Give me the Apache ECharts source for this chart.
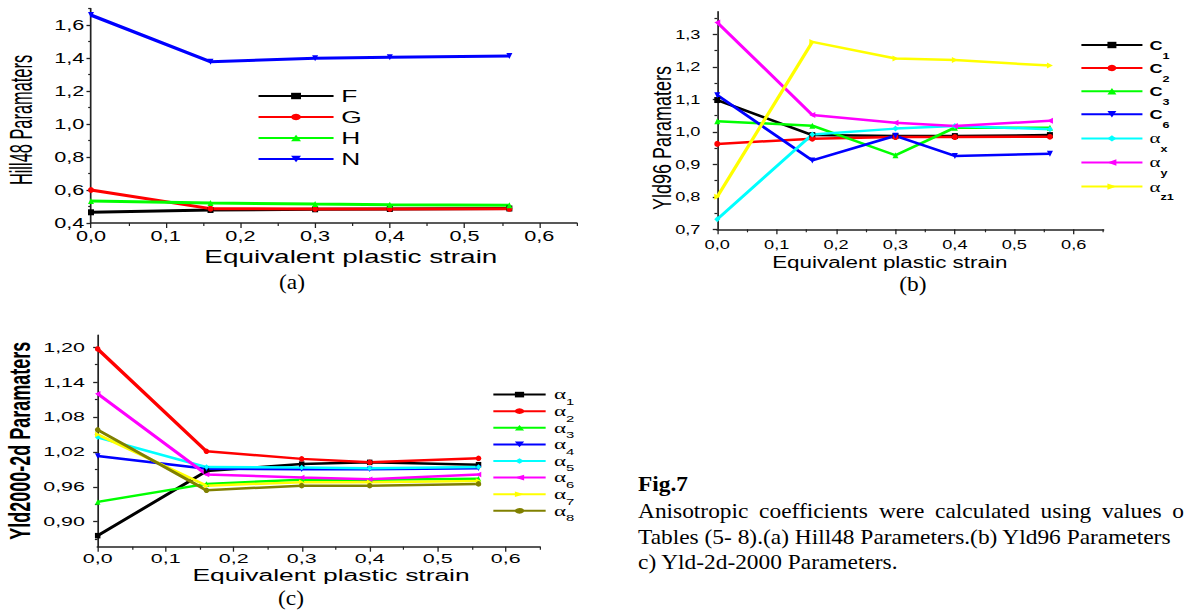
<!DOCTYPE html>
<html><head><meta charset="utf-8">
<script src="https://cdn.jsdelivr.net/npm/echarts@6/dist/echarts.min.js"></script>
<style>
html,body{margin:0;padding:0;background:#fff;width:1184px;height:611px;overflow:hidden;position:relative;}
.c{position:absolute;transform-origin:0 0;}
</style></head><body>
<div id="ca" class="c"></div>
<div id="cb" class="c"></div>
<div id="cc" class="c"></div>
<div id="cap" class="c"></div>
<script>
// ---- data ----
const strain = [0, 0.16, 0.3, 0.4, 0.56];
const xMajor = [0, 0.1, 0.2, 0.3, 0.4, 0.5, 0.6];
const xMinor = [0.05, 0.15, 0.25, 0.35, 0.45, 0.55, 0.65];

const hillNames = ['F', 'G', 'H', 'N'];
const hillF = [0.465, 0.479, 0.483, 0.485, 0.488];
const hillG = [0.600, 0.487, 0.485, 0.485, 0.486];
const hillH = [0.533, 0.521, 0.515, 0.511, 0.507];
const hillN = [1.660, 1.377, 1.398, 1.404, 1.412];
const hillYMajor = [0.4, 0.6, 0.8, 1.0, 1.2, 1.4, 1.6];
const hillYMinor = [0.5, 0.7, 0.9, 1.1, 1.3, 1.5, 1.7];

const yld96Names = ['C1', 'C2', 'C3', 'C6', 'αx', 'αy', 'αz1'];
const yld96C1 = [1.098, 0.990, 0.987, 0.987, 0.990];
const yld96C2 = [0.963, 0.979, 0.984, 0.984, 0.985];
const yld96C3 = [1.033, 1.019, 0.928, 1.013, 1.013];
const yld96C6 = [1.113, 0.912, 0.988, 0.926, 0.933];
const yld96Ax = [0.731, 0.992, 1.010, 1.018, 1.008];
const yld96Ay = [1.337, 1.052, 1.028, 1.018, 1.034];
const yld96Az1 = [0.800, 1.277, 1.226, 1.221, 1.204];
const yld96YMajor = [0.7, 0.8, 0.9, 1.0, 1.1, 1.2, 1.3];
const yld96YMinor = [0.75, 0.85, 0.95, 1.05, 1.15, 1.25, 1.35];

const yld2kNames = ['α1', 'α2', 'α3', 'α4', 'α5', 'α6', 'α7', 'α8'];
const yld2kA1 = [0.876, 0.987, 0.999, 1.002, 0.998];
const yld2kA2 = [1.197, 1.021, 1.008, 1.002, 1.009];
const yld2kA3 = [0.934, 0.965, 0.972, 0.972, 0.974];
const yld2kA4 = [1.013, 0.991, 0.990, 0.990, 0.992];
const yld2kA5 = [1.045, 0.994, 0.993, 0.992, 0.994];
const yld2kA6 = [1.120, 0.981, 0.976, 0.973, 0.981];
const yld2kA7 = [1.050, 0.962, 0.968, 0.968, 0.970];
const yld2kA8 = [1.058, 0.954, 0.962, 0.962, 0.965];
const yld2kYMajor = [0.90, 0.96, 1.02, 1.08, 1.14, 1.20];
const yld2kYMinor = [0.87, 0.93, 0.99, 1.05, 1.11, 1.17];

// ---- styles ----
const COL = {k:'#000000', r:'#ff0000', g:'#00ff00', b:'#0000ff', c:'#00ffff', m:'#ff00ff', y:'#ffff00', o:'#808000'};
const MARK = [
  {symbol:'rect', rot:0}, {symbol:'circle', rot:0}, {symbol:'triangle', rot:0},
  {symbol:'triangle', rot:180}, {symbol:'diamond', rot:0}, {symbol:'triangle', rot:90},
  {symbol:'triangle', rot:-90}, {symbol:'circle', rot:0}
];
const FONT = 'Liberation Sans, Arial, sans-serif';

function pairs(ys){ return strain.map((x, i) => [x, ys[i]]); }
function comma(v, d){ return v.toFixed(d).replace('.', ','); }

function buildSeries(names, arrays, colors, s, lw, ms){
  return names.map((n, i) => {
    const mk = MARK[i];
    const sz = (mk.rot === 90 || mk.rot === -90) ? [ms, ms / s] : [ms / s, ms];
    return {
      type:'line', name:n, data:pairs(arrays[i]), xAxisIndex:0, yAxisIndex:0,
      symbol:mk.symbol, symbolRotate:mk.rot, symbolSize:sz, showSymbol:true,
      lineStyle:{color:colors[i], width:lw}, itemStyle:{color:colors[i]},
      clip:false, emphasis:{disabled:true}, silent:true
    };
  });
}

function buildOption(cfg){
  const s = cfg.s;
  const xMain = {
    type:'value', gridIndex:0, position:'bottom', min:0, max:0.65,
    axisLine:{show:true, onZero:false, lineStyle:{color:'#222', width:1.5}},
    axisTick:{show:true, inside:false, length:5, customValues:xMajor, lineStyle:{color:'#222', width:1.3 / s}},
    axisLabel:{show:true, customValues:xMajor, formatter:v => comma(v, 1), margin:cfg.xMargin,
      fontSize:cfg.tickFont, color:'#000', fontFamily:FONT},
    splitLine:{show:false},
    name:'Equivalent plastic strain', nameLocation:'middle', nameGap:cfg.xNameGap, nameMoveOverlap:false,
    nameTextStyle:{fontSize:cfg.xNameFont, color:'#000', fontFamily:FONT, padding:cfg.xNamePad}
  };
  const xMin = {
    type:'value', gridIndex:0, position:'bottom', min:0, max:0.65,
    axisLine:{show:false}, axisLabel:{show:false}, splitLine:{show:false},
    axisTick:{show:true, inside:false, length:3, customValues:xMinor, lineStyle:{color:'#222', width:1.2 / s}}
  };
  const yMain = {
    type:'value', gridIndex:0, position:'left', min:cfg.yMin, max:cfg.yMax,
    axisLine:{show:true, onZero:false, lineStyle:{color:'#222', width:1.7 / s}},
    axisTick:{show:true, inside:false, length:4.5 / s, customValues:cfg.yMajor, lineStyle:{color:'#222', width:1.3}},
    axisLabel:{show:true, customValues:cfg.yMajor, formatter:v => comma(v, cfg.yDec), margin:cfg.yMargin,
      fontSize:cfg.tickFont, color:'#000', fontFamily:FONT},
    splitLine:{show:false},
    name:cfg.yName, nameLocation:'middle', nameGap:cfg.yNameGap, nameMoveOverlap:false,
    nameTextStyle:Object.assign({color:'#000', fontFamily:FONT}, cfg.yNameStyle)
  };
  const yMin = {
    type:'value', gridIndex:0, position:'left', min:cfg.yMin, max:cfg.yMax,
    axisLine:{show:false}, axisLabel:{show:false}, splitLine:{show:false},
    axisTick:{show:true, inside:false, length:2.8 / s, customValues:cfg.yMinor, lineStyle:{color:'#222', width:1.2}}
  };
  return {
    animation:false,
    backgroundColor:'transparent',
    textStyle:{fontFamily:FONT},
    grid:{left:cfg.grid[0], top:cfg.grid[1], width:cfg.grid[2], height:cfg.grid[3], containLabel:false, outerBoundsMode:'none'},
    xAxis:[xMain, xMin],
    yAxis:[yMain, yMin],
    legend:Object.assign({
      orient:'vertical', padding:0, selectedMode:false,
      data:cfg.names
    }, cfg.legend),
    graphic:cfg.graphic || [],
    series:buildSeries(cfg.names, cfg.arrays, cfg.colors, s, cfg.lw, cfg.ms)
  };
}

function mount(id, left, top, pageW, pageH, s){
  const el = document.getElementById(id);
  el.style.left = left + 'px';
  el.style.top = top + 'px';
  el.style.width = (pageW / s) + 'px';
  el.style.height = pageH + 'px';
  el.style.transform = 'scaleX(' + s + ')';
  return echarts.init(el, null, {renderer:'svg', width:pageW / s, height:pageH});
}

// ---- chart (a) Hill48 ----
const sA = 1.55;
const chA = mount('ca', 0, 0, 590, 300, sA);
chA.setOption(buildOption({
  s:sA, grid:[58.7, 8.5, 313.3, 214.5],
  yMin:0.4, yMax:1.7, yMajor:hillYMajor, yMinor:hillYMinor, yDec:1,
  tickFont:14, xMargin:6.5, yMargin:4.3,
  xNameGap:25, xNameFont:18, xNamePad:[0, 0, 0, 22],
  yName:'', yNameGap:35, yNameStyle:{},
  graphic:[{type:'text', x:13.6, y:120, rotation:Math.PI / 2, scaleX:0.82, silent:true,
    style:{text:'Hill48 Paramaters', fontSize:20, fontFamily:FONT, fill:'#000', align:'center', verticalAlign:'middle'}}],
  names:hillNames, arrays:[hillF, hillG, hillH, hillN], colors:[COL.k, COL.r, COL.g, COL.b],
  lw:3, ms:6,
  legend:{left:165.8, top:87.5, itemWidth:48.4, itemHeight:8, itemGap:4,
    textStyle:{fontSize:17, lineHeight:17, color:'#000', fontFamily:FONT}}
}));

// ---- chart (b) Yld96 ----
const sB = 1.4;
const chB = mount('cb', 590, 0, 594, 300, sB);
chB.setOption(buildOption({
  s:sB, grid:[90.9, 11.7, 275.8, 217.6],
  yMin:0.7, yMax:1.37, yMajor:yld96YMajor, yMinor:yld96YMinor, yDec:1,
  tickFont:13, xMargin:8.2, yMargin:12,
  xNameGap:25.4, xNameFont:16, xNamePad:[0, 29.4, 0, 0],
  yName:'Yld96 Paramaters', yNameGap:30,
  yNameStyle:{fontSize:18, padding:[0, 35, 0, 0]},
  names:yld96Names, arrays:[yld96C1, yld96C2, yld96C3, yld96C6, yld96Ax, yld96Ay, yld96Az1],
  colors:[COL.k, COL.r, COL.g, COL.b, COL.c, COL.m, COL.y],
  lw:2.5, ms:6,
  legend:{left:350, top:38.5, itemWidth:43.6, itemHeight:8, itemGap:1.6,
    formatter:n => n.charAt(0) === 'α' ? '{a|α}{s|' + n.slice(1) + '}' : '{m|' + n.charAt(0) + '}{s|' + n.slice(1) + '}',
    textStyle:{color:'#000', fontFamily:FONT, rich:{
      m:{fontSize:13, fontWeight:'bold', lineHeight:30, color:'#000', fontFamily:FONT},
      a:{fontSize:15, lineHeight:30, color:'#000', fontFamily:'Liberation Serif, serif'},
      s:{fontSize:9, fontWeight:'bold', lineHeight:12, verticalAlign:'bottom', color:'#000', fontFamily:FONT}
    }}}
}));

// ---- chart (c) Yld2000-2d ----
const sC = 1.65;
const chC = mount('cc', 0, 300, 590, 311, sC);
chC.setOption(buildOption({
  s:sC, grid:[59.2, 35, 267.9, 211.7],
  yMin:0.857, yMax:1.221, yMajor:yld2kYMajor, yMinor:yld2kYMinor, yDec:2,
  tickFont:13, xMargin:5, yMargin:7.7,
  xNameGap:20.5, xNameFont:16, xNamePad:[0, 0, 0, 15],
  yName:'Yld2000-2d Paramaters', yNameGap:38,
  yNameStyle:{fontSize:18, fontWeight:'bold'},
  names:yld2kNames, arrays:[yld2kA1, yld2kA2, yld2kA3, yld2kA4, yld2kA5, yld2kA6, yld2kA7, yld2kA8],
  colors:[COL.k, COL.r, COL.g, COL.b, COL.c, COL.m, COL.y, COL.o],
  lw:2.5, ms:5.5,
  legend:{left:298, top:87.6, itemWidth:31.7, itemHeight:7, itemGap:-2.4,
    formatter:n => '{a|α}{s|' + n.slice(1) + '}',
    textStyle:{color:'#000', fontFamily:FONT, rich:{
      a:{fontSize:14, lineHeight:24, color:'#000', fontFamily:'Liberation Serif, serif'},
      s:{fontSize:9, lineHeight:10, verticalAlign:'bottom', color:'#000', fontFamily:FONT}
    }}}
}));

// ---- captions ----
const sO = 1.17;
const chO = mount('cap', 0, 0, 1184, 611, sO);
const SERIF = 'Liberation Serif, Times New Roman, serif';
function txt(x, y, text, opt){
  return {type:'text', x:x, y:y, silent:true, style:Object.assign({
    text:text, fontSize:20, fontFamily:SERIF, fill:'#000', align:'left', verticalAlign:'middle'}, opt || {})};
}
const line1Words = ['Anisotropic', 'coefficients', 'were', 'calculated', 'using', 'values', 'o'];
const line1X = [545.3, 648.8, 751.2, 799.2, 889.4, 941.8, 1002];
const capEls = [
  txt(249.6, 283, '(a)', {align:'center'}),
  txt(780.3, 285, '(b)', {align:'center'}),
  txt(248.7, 599, '(c)', {align:'center'}),
  txt(545.3, 485, 'Fig.7', {fontWeight:'bold'}),
  txt(545.3, 538, 'Tables (5- 8).(a) Hill48 Parameters.(b) Yld96 Parameters'),
  txt(545.3, 563, 'c) Yld-2d-2000 Parameters.')
];
line1Words.forEach((w, i) => capEls.push(txt(line1X[i], 512, w)));
chO.setOption({animation:false, backgroundColor:'transparent', graphic:capEls});
</script>
</body></html>
